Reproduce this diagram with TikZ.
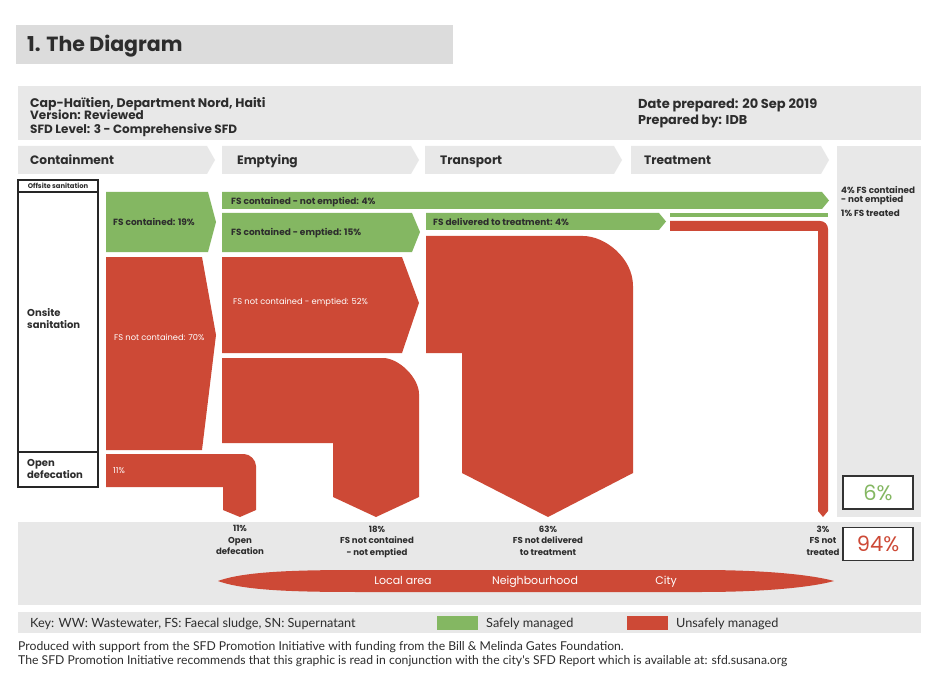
\documentclass[tikz,border=0pt]{standalone}
\usepackage{fontspec}
\setmainfont{Poppins}
\newfontfamily\keyfont{Lato}
\definecolor{sgreen}{RGB}{132,183,98}
\definecolor{ured}{RGB}{205,73,54}
\definecolor{lgray}{RGB}{232,232,232}
\definecolor{tgray}{RGB}{220,220,220}
\definecolor{txt}{RGB}{45,45,45}
\tikzset{
  hdrtxt/.style={anchor=base west, yshift=-4.2pt, inner sep=0, text=txt, font=\bfseries\fontsize{12}{13}\selectfont},
  stagetxt/.style={anchor=base west, yshift=-4.3pt, inner sep=0, text=txt, font=\bfseries\fontsize{12.2}{14}\selectfont},
  gtxt/.style={anchor=base west, yshift=-3.15pt, inner sep=0, text=txt, font=\bfseries\fontsize{9}{10}\selectfont},
  rtxt/.style={anchor=base west, yshift=-2.9pt, inner sep=0, text=white, font=\fontsize{8.3}{10}\selectfont},
  cattxt/.style={anchor=west, inner sep=0, text=txt, align=left, font=\bfseries\fontsize{10}{12}\selectfont},
  btxt/.style={anchor=north, inner sep=0, text=txt, align=center, font=\bfseries\fontsize{8.6}{11.5}\selectfont},
  lenstxt/.style={anchor=base, yshift=-3.85pt, inner sep=0, text=white, font=\fontsize{11}{12}\selectfont},
  keytxt/.style={anchor=base west, yshift=-4.6pt, inner sep=0, text=txt, font=\keyfont\fontsize{12.7}{14}\selectfont},
  foottxt/.style={anchor=base west, yshift=-4.35pt, inner sep=0, text=txt, font=\keyfont\fontsize{12.2}{13}\selectfont},
  cbox/.style={draw=black!85, line width=1.6pt},
  pbox/.style={draw=black!80, line width=1.6pt, fill=white, minimum width=70pt, minimum height=33pt, inner sep=0, font=\fontsize{21}{23}\selectfont}
}
\begin{document}
\begin{tikzpicture}[x=1pt,y=-1pt]
\useasboundingbox[fill=white] (0,0) rectangle (938,690);
% title bar
\fill[tgray] (16,25) rectangle (453,64);
\node[anchor=base west, yshift=-7pt, inner sep=0, text=txt, font=\bfseries\fontsize{20.5}{22}\selectfont] (title) at (27,45) {1. The Diagram};
% header
\fill[lgray] (18,86) rectangle (921,140);
\node[hdrtxt, yshift=-4.4pt, font=\bfseries\fontsize{12.5}{14}\selectfont] (city) at (30,99) {Cap-Haïtien, Department Nord, Haiti};
\node[hdrtxt] (ver) at (30,115.5) {Version: Reviewed};
\node[hdrtxt] (lvl) at (30,129.5) {SFD Level: 3 - Comprehensive SFD};
\node[hdrtxt, yshift=-4.55pt, font=\bfseries\fontsize{13}{14}\selectfont] (date) at (638,99.5) {Date prepared: 20 Sep 2019};
\node[hdrtxt, yshift=-4.5pt, font=\bfseries\fontsize{12.8}{14}\selectfont] (prep) at (638,115.5) {Prepared by: IDB};
% stage chevrons
\fill[lgray] (18,146) -- (207,146) -- (215,160) -- (207,174) -- (18,174) -- cycle;
\fill[lgray] (222,146) -- (411,146) -- (419,160) -- (411,174) -- (222,174) -- cycle;
\fill[lgray] (425,146) -- (614,146) -- (622,160) -- (614,174) -- (425,174) -- cycle;
\fill[lgray] (631,146) -- (821,146) -- (829,160) -- (821,174) -- (631,174) -- cycle;
\node[stagetxt] (s1) at (30,160) {Containment};
\node[stagetxt] (s2) at (237,160) {Emptying};
\node[stagetxt] (s3) at (440,160) {Transport};
\node[stagetxt] (s4) at (644,160) {Treatment};
% right column
\fill[lgray] (837,146) rectangle (921,517);
\node[anchor=north west, inner sep=0, text=txt, align=left, font=\bfseries\fontsize{8.8}{9}\selectfont] (r1) at (841,186.5) {4\% FS contained\\- not emptied};
\node[anchor=base west, yshift=-3.1pt, inner sep=0, text=txt, font=\bfseries\fontsize{8.8}{9}\selectfont] (r2) at (841,213) {1\% FS treated};
% bottom band
\fill[lgray] (18,522) rectangle (921,605);
% category boxes
\draw[cbox] (18,180) rectangle (98,192);
\node[anchor=base, yshift=-2.4pt, inner sep=0, text=txt, font=\bfseries\fontsize{6.8}{7}\selectfont] (off) at (58,186) {Offsite sanitation};
\draw[cbox] (18,192) rectangle (98,452);
\draw[cbox] (18,452) rectangle (98,487);
\node[cattxt] (ons) at (27,319) {Onsite\\sanitation};
\node[cattxt] (opd) at (27,469) {Open\\defecation};
% containment flows
\fill[sgreen] (106,192) -- (208,192) -- (216,222) -- (208,252) -- (106,252) -- cycle;
\node[gtxt] (fc) at (113,222) {FS contained: 19\%};
\fill[ured] (106,257) -- (202,257) -- (216,335) -- (202,450) -- (106,450) -- cycle;
\node[rtxt] (fnc) at (114,338) {FS not contained: 70\%};
\fill[ured] (106,454) -- (244,454) .. controls (250,454) and (256,460) .. (256,466) -- (256,510) -- (240,517) -- (223,510) -- (223,487) -- (106,487) -- cycle;
\node[rtxt] (od) at (113,471) {11\%};
% emptying flows
\fill[sgreen] (222,192) -- (822,192) -- (829,200.5) -- (822,209) -- (222,209) -- cycle;
\node[gtxt] (cne) at (231,201) {FS contained - not emptied: 4\%};
\fill[sgreen] (222,213) -- (412,213) -- (420,232) -- (412,252) -- (222,252) -- cycle;
\node[gtxt] (ce) at (231,232) {FS contained - emptied: 15\%};
\fill[ured] (222,257) -- (402,257) -- (419,303) -- (402,353) -- (222,353) -- cycle;
\node[rtxt] (nce) at (233,302) {FS not contained - emptied: 52\%};
\fill[ured] (222,358) -- (383,358) .. controls (399,358) and (419,378) .. (419,394) -- (419,497) -- (376,517) -- (333,497) -- (333,443) -- (222,443) -- cycle;
% transport
\fill[sgreen] (426,213) -- (659,213) -- (666,221.5) -- (659,230) -- (426,230) -- cycle;
\node[gtxt] (dt) at (433,222) {FS delivered to treatment: 4\%};
\fill[ured] (426,236) -- (583,236) .. controls (605,236) and (633,258) .. (633,286) -- (633,473) -- (548,517) -- (462,473) -- (462,353) -- (426,353) -- cycle;
% treatment
\fill[sgreen] (670,213) rectangle (828,217);
\fill[ured] (670,221) -- (820,221) .. controls (824.5,221) and (828,224.5) .. (828,229) -- (828,511) -- (823,517) -- (818,511) -- (818,231) -- (670,231) -- cycle;
% percentage boxes
\node[pbox, text=sgreen] (p6) at (878,492.5) {6\%};
\node[pbox, text=ured] (p94) at (878,544) {94\%};
% bottom labels
\node[btxt] (b1) at (240,525.5) {11\%\\Open\\defecation};
\node[btxt] (b2) at (377,525.5) {18\%\\FS not contained\\- not emptied};
\node[btxt] (b3) at (548,525.5) {63\%\\FS not delivered\\to treatment};
\node[btxt] (b4) at (823,525.5) {3\%\\FS not\\treated};
% lens
\fill[ured] (218,581) .. controls (245,571) and (300,570) .. (360,570) -- (700,570) .. controls (780,570) and (820,577) .. (834,581) .. controls (820,585) and (780,592) .. (700,592) -- (360,592) .. controls (300,592) and (245,591) .. (218,581) -- cycle;
\node[lenstxt] (la) at (403,581) {Local area};
\node[lenstxt] (nb) at (535,581) {Neighbourhood};
\node[lenstxt] (ct) at (666,581) {City};
% key
\fill[lgray] (18,612) rectangle (921,633);
\node[keytxt] (key) at (30,623) {Key: WW: Wastewater, FS: Faecal sludge, SN: Supernatant};
\fill[sgreen] (437,616) rectangle (478,630);
\node[keytxt] (sm) at (486,623) {Safely managed};
\fill[ured] (627,616) rectangle (668,630);
\node[keytxt] (um) at (676,623) {Unsafely managed};
% footer
\node[foottxt] (f1) at (18,646) {Produced with support from the SFD Promotion Initiative with funding from the Bill \& Melinda Gates Foundation.};
\node[foottxt] (f2) at (18,660) {The SFD Promotion Initiative recommends that this graphic is read in conjunction with the city's SFD Report which is available at: sfd.susana.org};
\end{tikzpicture}
\end{document}
